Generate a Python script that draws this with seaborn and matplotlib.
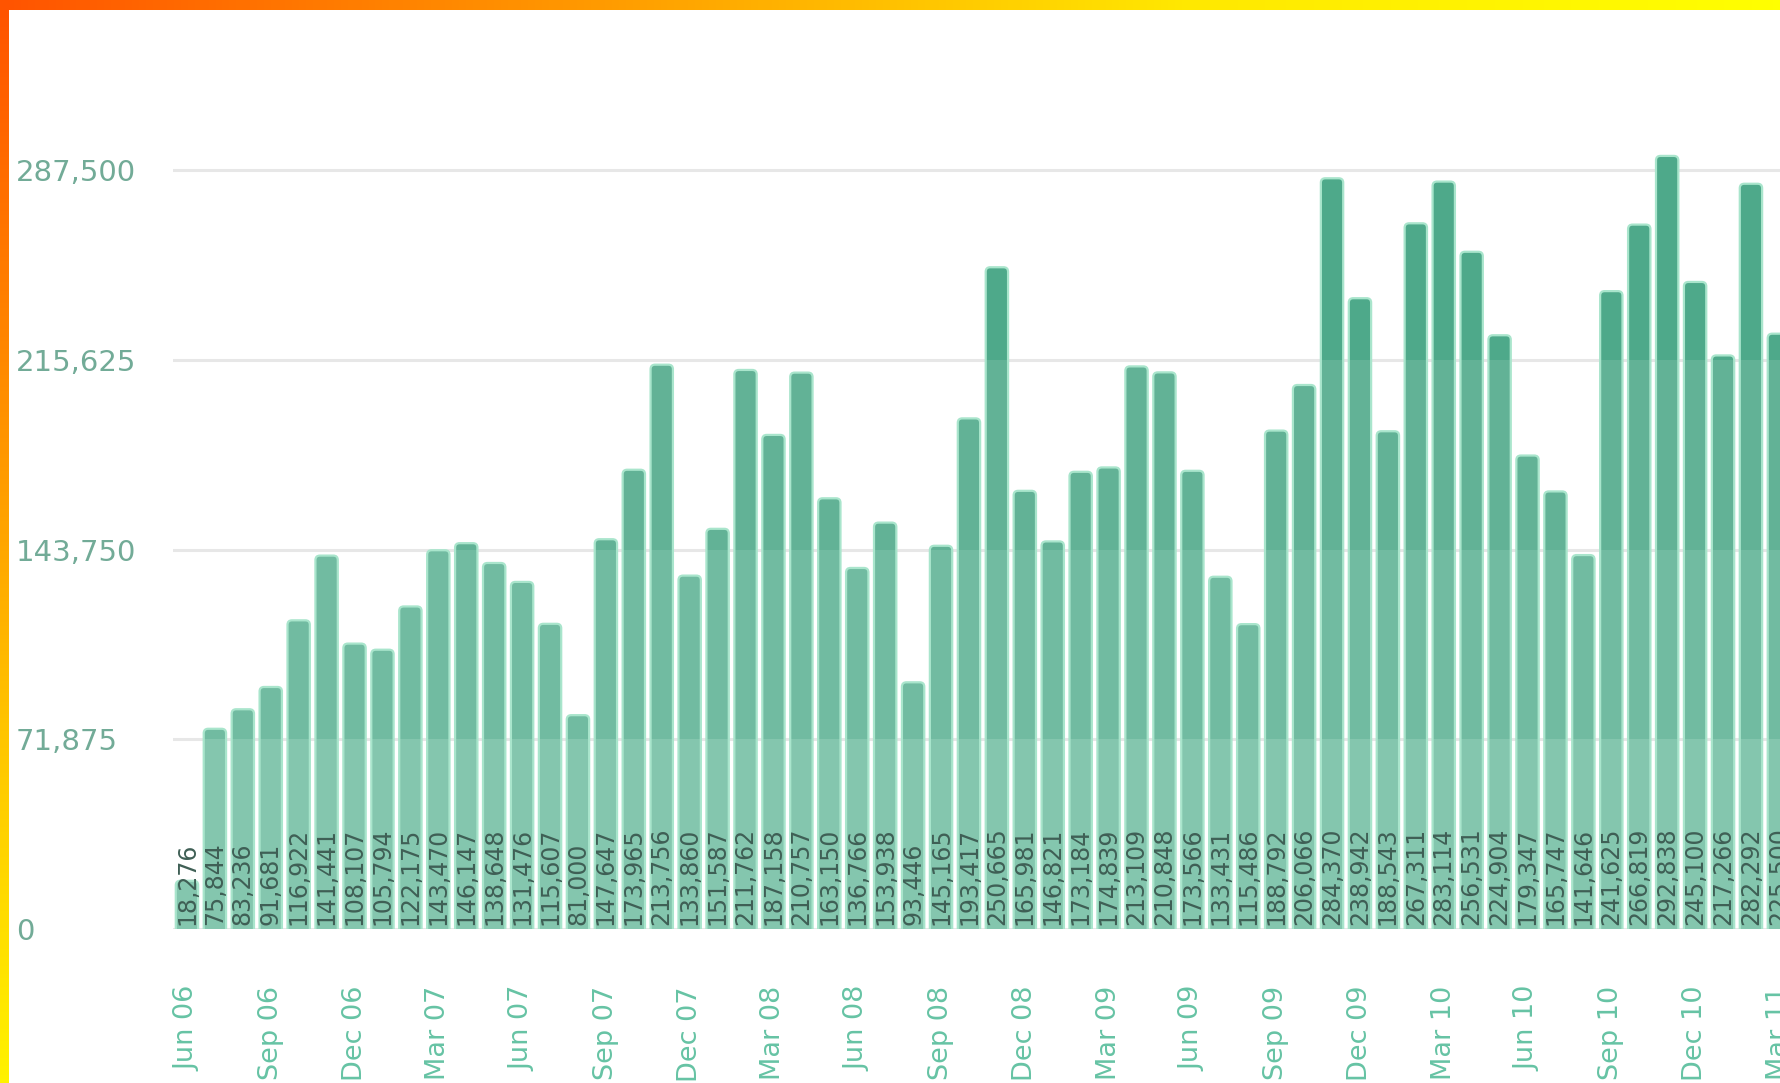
import numpy as np
import pandas as pd
import matplotlib
matplotlib.use("Agg")
import matplotlib.pyplot as plt
from matplotlib.patches import FancyBboxPatch
from matplotlib.colors import LinearSegmentedColormap
import seaborn as sns

# ---- data ----
months = ["Jun 06", "Jul 06", "Aug 06", "Sep 06", "Oct 06", "Nov 06", "Dec 06",
          "Jan 07", "Feb 07", "Mar 07", "Apr 07", "May 07", "Jun 07", "Jul 07", "Aug 07",
          "Sep 07", "Oct 07", "Nov 07", "Dec 07",
          "Jan 08", "Feb 08", "Mar 08", "Apr 08", "May 08", "Jun 08", "Jul 08", "Aug 08",
          "Sep 08", "Oct 08", "Nov 08", "Dec 08",
          "Jan 09", "Feb 09", "Mar 09", "Apr 09", "May 09", "Jun 09", "Jul 09", "Aug 09",
          "Sep 09", "Oct 09", "Nov 09", "Dec 09",
          "Jan 10", "Feb 10", "Mar 10", "Apr 10", "May 10", "Jun 10", "Jul 10", "Aug 10",
          "Sep 10", "Oct 10", "Nov 10", "Dec 10",
          "Jan 11", "Feb 11", "Mar 11"]
values = [18276, 75844, 83236, 91681, 116922, 141441, 108107,
          105794, 122175, 143470, 146147, 138648, 131476, 115607, 81000,
          147647, 173965, 213756, 133860,
          151587, 211762, 187158, 210757, 163150, 136766, 153938, 93446,
          145165, 193417, 250665, 165981,
          146821, 173184, 174839, 213109, 210848, 173566, 133431, 115486,
          188792, 206066, 284370, 238942,
          188543, 267311, 283114, 256531, 224904, 179347, 165747, 141646,
          241625, 266819, 292838, 245100,
          217266, 282292, 225500]
y_ticks = [0, 71875, 143750, 215625, 287500]
y_tick_labels = ["0", "71,875", "143,750", "215,625", "287,500"]

df = pd.DataFrame({"month": months, "value": values})

W, H = 1780, 1083
fig = plt.figure(figsize=(W / 100, H / 100), dpi=100)
fig.patch.set_facecolor("white")

# ---- border strips ----
top_cmap = LinearSegmentedColormap.from_list("top", ["#ff5400", "#ff9a00", "#ffe800", "#ffff00"])
left_cmap = LinearSegmentedColormap.from_list("left", ["#ff5400", "#ff8a00", "#ffc400", "#fff200"])
ax_top = fig.add_axes([0, 1 - 10 / H, 1, 10 / H])
ax_top.imshow(np.linspace(0, 1, 256)[None, :], cmap=top_cmap, aspect="auto")
ax_top.axis("off")
ax_left = fig.add_axes([0, 0, 9 / W, 1 - 10 / H])
ax_left.imshow(np.linspace(0, 1, 256)[:, None], cmap=left_cmap, aspect="auto")
ax_left.axis("off")

# ---- main axes ----
left_px, base_px, top_px = 173, 929, 60
ax = fig.add_axes([left_px / W, (H - base_px) / H, 1 - left_px / W, (base_px - top_px) / H])
ax.set_facecolor("white")

sns.barplot(data=df, x="month", y="value", color="#6ab79c", width=0.8,
            ax=ax, zorder=2)

px_per_val = (base_px - 170) / 287500.0
ymax = (base_px - top_px) / px_per_val
ax.set_ylim(0, ymax)
ax.set_xlim(-0.5, 57.04)

for s in ax.spines.values():
    s.set_visible(False)

ax.set_yticks(y_ticks)
ax.set_yticklabels(y_tick_labels)
ax.yaxis.grid(True, color="#e7e7e7", lw=2.2, zorder=0)
ax.set_axisbelow(True)
ax.tick_params(axis="y", length=0, pad=(left_px - 16) * 0.72,
               labelsize=21, labelcolor="#72ab97")
for t in ax.get_yticklabels():
    t.set_horizontalalignment("left")

ax.set_xticks(range(0, len(months), 3))
ax.set_xticklabels([months[i] for i in range(0, len(months), 3)],
                   rotation=90, va="top", ha="center")
ax.tick_params(axis="x", length=0, pad=41, labelsize=19.5, labelcolor="#66c3a4")
ax.set_xlabel("")
ax.set_ylabel("")

# ---- banded bar fill with rounded tops ----
band_edges = [0, 71875, 143750, 215625, 1e9]
band_colors = ["#84c6ae", "#71bba1", "#62b296", "#4ea98a"]
nrows = 600
ys = np.linspace(0, ymax, nrows)
rgb = np.zeros((nrows, 1, 3))
for i, yv in enumerate(ys):
    b = np.searchsorted(band_edges, yv, side="right") - 1
    b = min(max(b, 0), 3)
    rgb[i, 0] = matplotlib.colors.to_rgb(band_colors[b])

ax_w_px = W - left_px
x_per_px = (57.04 + 0.5) / ax_w_px
y_per_px = 1 / px_per_val
r = 0.16
asp = y_per_px / x_per_px

for p in list(ax.patches):
    x0, w, h = p.get_x(), p.get_width(), p.get_height()
    p.set_visible(False)
    fb = FancyBboxPatch((x0, -8000), w, h + 8000,
                        boxstyle=f"round,pad=0,rounding_size={r}",
                        mutation_aspect=asp, facecolor="none",
                        edgecolor="#a9e5cc", lw=1.6, zorder=4,
                        transform=ax.transData)
    ax.add_patch(fb)
    im = ax.imshow(rgb, extent=[x0, x0 + w, 0, ymax], origin="lower",
                   aspect="auto", interpolation="nearest", zorder=3)
    im.set_clip_path(fb)

ax.set_ylim(0, ymax)
ax.set_xlim(-0.5, 57.04)
ax.set_aspect("auto")

# ---- value labels ----
for i, v in enumerate(values):
    ax.text(i, 1500, f"{v:,}", rotation=90, ha="center", va="bottom",
            fontsize=17, color="#3f5f55", zorder=6)

fig.savefig("out.png", dpi=100, facecolor="white")
